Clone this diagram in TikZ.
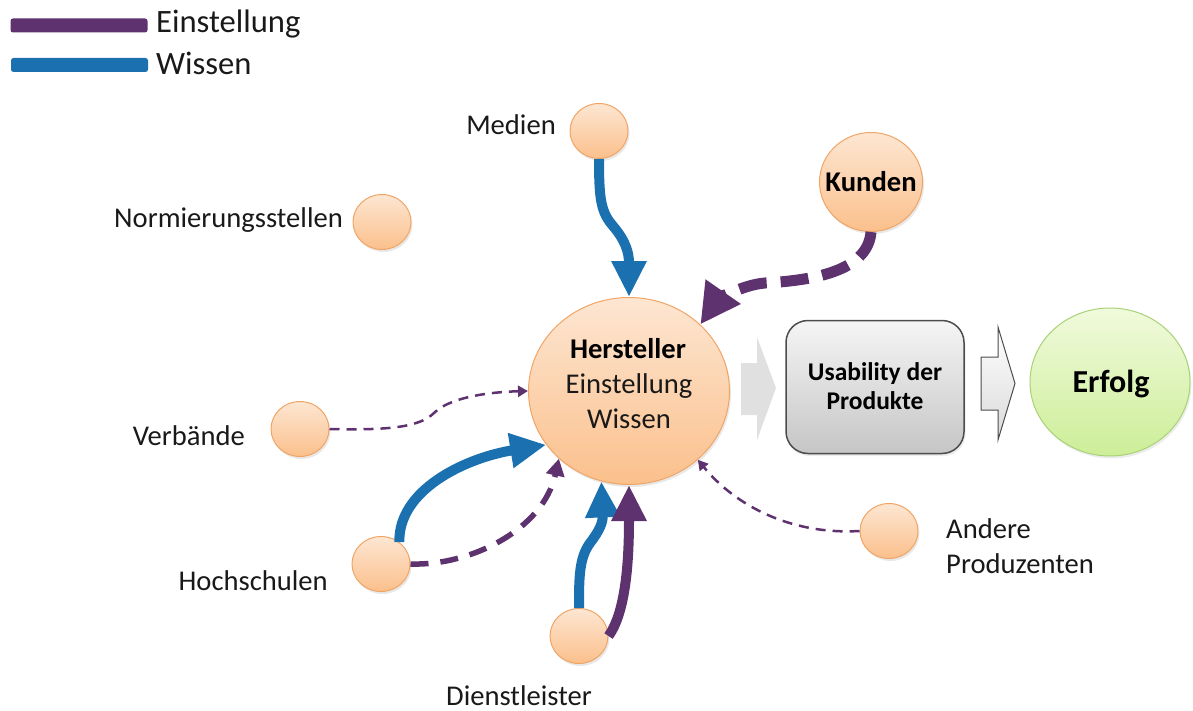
\documentclass[tikz,border=0pt]{standalone}
\usepackage{fontspec}
\setmainfont{Carlito}
\usetikzlibrary{arrows.meta,shapes.geometric,shadows}
\definecolor{purp}{HTML}{5E326E}
\definecolor{blu}{HTML}{1B71B0}
\definecolor{orA}{HTML}{FDE6D2}
\definecolor{orB}{HTML}{FBC08C}
\definecolor{orL}{HTML}{F0A566}
\definecolor{grA}{HTML}{F0FADC}
\definecolor{grB}{HTML}{CDEE98}
\definecolor{grL}{HTML}{A9D277}
\begin{document}
\begin{tikzpicture}[x=1pt,y=-1pt,
  bubble/.style={ellipse,inner sep=0pt,draw=orL,line width=1pt,top color=orA,bottom color=orB,
    drop shadow={shadow xshift=1.5pt,shadow yshift=-2.5pt,opacity=0.18}},
  small/.style={bubble,minimum width=58pt,minimum height=55pt},
  lbl/.style={font=\fontsize{28.6}{34}\selectfont,inner sep=0pt,text=black!90},
  lblb/.style={font=\fontsize{28.6}{34}\selectfont\bfseries,inner sep=0pt,text=black},
  legtxt/.style={font=\fontsize{32.6}{38}\selectfont,inner sep=0pt,text=black!90},
  legbar/.style={inner sep=0pt,minimum width=137pt,minimum height=14pt,rounded corners=2.5pt},
  boxtxt/.style={font=\fontsize{25.5}{30}\selectfont\bfseries,inner sep=0pt,anchor=base},
  wissen/.style={blu,line width=10pt,-{Triangle[length=36pt,width=33pt]}},
  einst/.style={purp,line width=10pt,-{Triangle[length=36pt,width=33pt]}},
  einstdash/.style={purp,line width=11pt,dash pattern=on 28pt off 14pt,-{Triangle[length=40pt,width=40pt]}},
  middash/.style={purp,line width=5.5pt,dash pattern=on 18pt off 12pt,-{Triangle[length=17pt,width=18pt]}},
  thindash/.style={purp,line width=2.5pt,dash pattern=on 10pt off 7pt,-{Triangle[length=10pt,width=11pt]}},
]
\useasboundingbox (0,0) rectangle (1193,711);

% legend
\node[legbar,fill=purp] (barE) at (79,25.5) {};
\node[legbar,fill=blu] (barW) at (79.5,65) {};
\node[legtxt,anchor=base west] (legE) at (156,33) {Einstellung};
\node[legtxt,anchor=base west] (legW) at (156,75) {Wissen};

% bubbles
\node[bubble,minimum width=201pt,minimum height=187pt] (her) at (629,391) {};
\node[small] (med) at (599,131) {};
\node[small] (norm) at (382,222) {};
\node[bubble,minimum width=103pt,minimum height=99pt] (kun) at (871,182) {};
\node[small] (verb) at (300,429) {};
\node[small] (hoch) at (381,564) {};
\node[small] (dien) at (579,636) {};
\node[small] (andr) at (889,531) {};

% labels
\node[lbl,anchor=base east] (tMed) at (556,135) {Medien};
\node[lbl,anchor=base east] (tNorm) at (343,228) {Normierungsstellen};
\node[lbl,anchor=base east] (tVerb) at (245,445) {Verbände};
\node[lbl,anchor=base east] (tHoch) at (328,590) {Hochschulen};
\node[lbl,anchor=base] (tDien) at (519,705) {Dienstleister};
\node[lbl,anchor=base west] (tAnd) at (946,538) {Andere};
\node[lbl,anchor=base west] (tProd) at (946,573) {Produzenten};
\node[lblb,anchor=base] (tKun) at (871,192) {Kunden};
\node[lblb,anchor=base] (tHer) at (628,358) {Hersteller};
\node[lbl,anchor=base] (tHerE) at (629,393) {Einstellung};
\node[lbl,anchor=base] (tHerW) at (629,428) {Wissen};

% block arrows
\fill[gray!24] (741,363) -- (757,363) -- (757,337) -- (776,388) -- (757,440) -- (757,415) -- (741,415) -- cycle;
\node[rectangle,rounded corners=22pt,minimum width=178pt,minimum height=133pt,inner sep=0pt,
      draw=black!70,line width=1.5pt,top color=gray!8,bottom color=gray!45,
      drop shadow={shadow xshift=1.5pt,shadow yshift=-2.5pt,opacity=0.15}] (usab) at (875,387) {};
\node[boxtxt] (tUs1) at (875,380) {Usability der};
\node[boxtxt] (tUs2) at (875,409) {Produkte};
\draw[black!70,line width=1pt,top color=white,bottom color=gray!30]
  (981,357) -- (998,357) -- (998,327) -- (1015,383.5) -- (998,440) -- (998,410) -- (981,410) -- cycle;
\node[ellipse,inner sep=0pt,minimum width=160pt,minimum height=148pt,draw=grL,line width=1pt,
      top color=grA,bottom color=grB,
      drop shadow={shadow xshift=1.5pt,shadow yshift=-2.5pt,opacity=0.15}] (erf) at (1110,382) {};
\node[font=\fontsize{32}{38}\selectfont\bfseries,inner sep=0pt,anchor=base] (tErf) at (1111,392) {Erfolg};

% connectors
\draw[wissen] (med.south) .. controls (599,200) and (601,212) .. (613,226)
   .. controls (625,240) and (629,252) .. (her.north);
\draw[einstdash] (kun.south) .. controls (868,268) and (822,280) .. (765,283)
   .. controls (740,285) and (716,302) .. (her.43);
\draw[thindash] (verb.east) .. controls (380,430) and (418,429) .. (434,413)
   .. controls (450,397) and (490,392) .. (her.west);
\draw[wissen] (hoch.50) .. controls (398,490) and (465,458) .. (her.213);
\draw[middash] (hoch.east) .. controls (470,566) and (543,530) .. (her.224);
\draw[wissen] (dien.north) .. controls (579,578) and (579,558) .. (590,543)
   .. controls (600,530) and (603,522) .. (her.253);
\draw[einst] (dien.east) .. controls (626,612) and (629,560) .. (her.south);
\draw[thindash] (andr.west) .. controls (790,535) and (735,505) .. (her.315);
\end{tikzpicture}
\end{document}
